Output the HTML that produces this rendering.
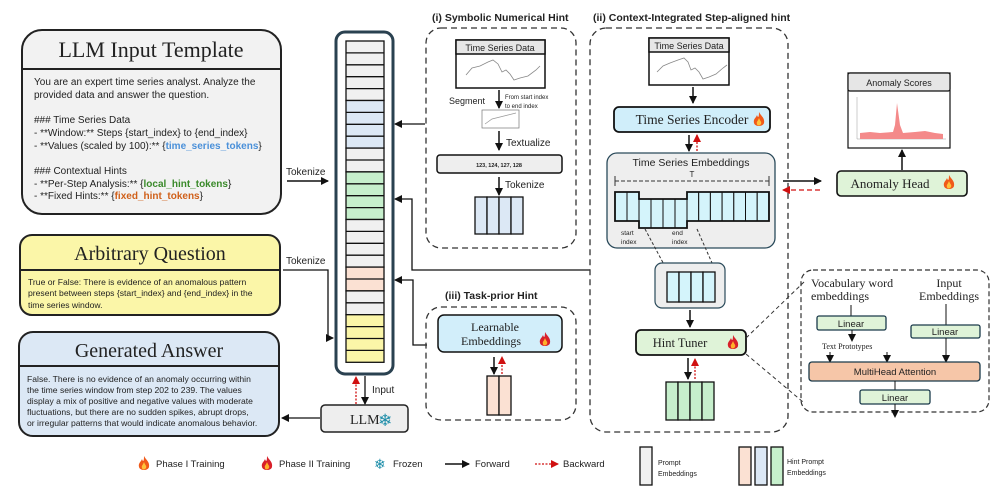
<!DOCTYPE html>
<html><head><meta charset="utf-8"><style>
html,body{margin:0;padding:0;background:#fff}
svg{display:block}
text{font-family:"Liberation Sans",sans-serif;fill:#222}
.s{font-family:"Liberation Serif",serif}
.b{font-weight:bold}
</style></head><body>
<svg width="997" height="494" viewBox="0 0 997 494" xmlns="http://www.w3.org/2000/svg">
<defs>
<marker id="ah" markerWidth="8" markerHeight="8" refX="7" refY="4" orient="auto" markerUnits="userSpaceOnUse"><path d="M0,0 L8,4 L0,8 Z" fill="#111"/></marker>
<marker id="ar" markerWidth="8" markerHeight="8" refX="7" refY="4" orient="auto" markerUnits="userSpaceOnUse"><path d="M0,0 L8,4 L0,8 Z" fill="#d01010"/></marker>
<g id="fire"><path d="M6,0 C8,4 12,6 11,11 C10,15 2,15 1,11 C0,7 3,6 4,3 C5,6 6,6 6,0Z" fill="#f05a1a"/><path d="M6,6 C7,9 9,10 8,12 C7,14 4,14 4,12 C3,10 5,9 6,6Z" fill="#ffc23a"/></g>
<g id="fire2"><path d="M6,0 C8,4 12,6 11,11 C10,15 2,15 1,11 C0,7 3,6 4,3 C5,6 6,6 6,0Z" fill="#d8202a"/><path d="M6,6 C7,9 9,10 8,12 C7,14 4,14 4,12 C3,10 5,9 6,6Z" fill="#ffb02a"/></g>
</defs>

<!-- LLM Input Template -->
<rect x="22" y="30" width="259" height="184" rx="20" fill="#f2f2f2" stroke="#222" stroke-width="2"/>
<line x1="22" y1="69" x2="281" y2="69" stroke="#222" stroke-width="2"/>
<text x="151" y="57" class="s" font-size="22" text-anchor="middle">LLM Input Template</text>
<g font-size="10">
<text x="34" y="85">You are an expert time series analyst. Analyze the</text>
<text x="34" y="98">provided data and answer the question.</text>
<text x="34" y="123">### Time Series Data</text>
<text x="34" y="136">- **Window:** Steps {start_index} to {end_index}</text>
<text x="34" y="149">- **Values (scaled by 100):** {<tspan fill="#4a90d9" font-weight="bold">time_series_tokens</tspan>}</text>
<text x="34" y="174">### Contextual Hints</text>
<text x="34" y="187">- **Per-Step Analysis:** {<tspan fill="#3a8a2a" font-weight="bold">local_hint_tokens</tspan>}</text>
<text x="34" y="199">- **Fixed Hints:** {<tspan fill="#d0601a" font-weight="bold">fixed_hint_tokens</tspan>}</text>
</g>
<text x="286" y="175" font-size="10">Tokenize</text>
<line x1="287" y1="181" x2="328" y2="181" stroke="#111" stroke-width="1.5" marker-end="url(#ah)"/>

<!-- Arbitrary Question -->
<rect x="20" y="235" width="260" height="80" rx="12" fill="#fbf6a8" stroke="#222" stroke-width="2"/>
<line x1="20" y1="270" x2="280" y2="270" stroke="#222" stroke-width="2"/>
<text x="150" y="260" class="s" font-size="20" text-anchor="middle">Arbitrary Question</text>
<g font-size="8.6">
<text x="28" y="285">True or False: There is evidence of an anomalous pattern</text>
<text x="28" y="296">present between steps {start_index} and {end_index} in the</text>
<text x="28" y="308">time series window.</text>
</g>
<text x="286" y="264" font-size="10">Tokenize</text>
<polyline points="283,270 328,270 328,338 333,338" fill="none" stroke="#111" stroke-width="1.3" marker-end="url(#ah)"/>

<!-- Generated Answer -->
<rect x="19" y="332" width="260" height="104" rx="14" fill="#dce8f5" stroke="#222" stroke-width="2"/>
<line x1="19" y1="366" x2="279" y2="366" stroke="#222" stroke-width="2"/>
<text x="149" y="357" class="s" font-size="20" text-anchor="middle">Generated Answer</text>
<g font-size="8.6">
<text x="27" y="382">False. There is no evidence of an anomaly occurring within</text>
<text x="27" y="393">the time series window from step 202 to 239. The values</text>
<text x="27" y="404">display a mix of positive and negative values with moderate</text>
<text x="27" y="415">fluctuations, but there are no sudden spikes, abrupt drops,</text>
<text x="27" y="426">or irregular patterns that would indicate anomalous behavior.</text>
</g>

<!-- Token column -->
<rect x="336" y="32" width="57" height="342" rx="9" fill="#fff" stroke="#2a4150" stroke-width="3"/>
<g stroke="#111" stroke-width="1.3">
<rect x="346" y="41" width="38" height="59.5" fill="#f0f0f0"/>
<rect x="346" y="100.5" width="38" height="47.6" fill="#dce8f5"/>
<rect x="346" y="148.1" width="38" height="23.8" fill="#f0f0f0"/>
<rect x="346" y="171.9" width="38" height="47.6" fill="#c6efcc"/>
<rect x="346" y="219.5" width="38" height="47.6" fill="#f0f0f0"/>
<rect x="346" y="267.1" width="38" height="23.8" fill="#fbe1d3"/>
<rect x="346" y="290.9" width="38" height="23.8" fill="#f0f0f0"/>
<rect x="346" y="314.7" width="38" height="47.6" fill="#fbf6a8"/>
</g>
<path stroke="#111" stroke-width="1.3" d="M346,52.9H384M346,64.8H384M346,76.7H384M346,88.6H384M346,112.4H384M346,124.3H384M346,136.2H384M346,160H384M346,183.8H384M346,195.7H384M346,207.6H384M346,231.4H384M346,243.3H384M346,255.2H384M346,279H384M346,302.8H384M346,326.6H384M346,338.5H384M346,350.4H384"/>

<!-- arrows into column -->
<line x1="425" y1="124" x2="395" y2="124" stroke="#111" stroke-width="1.3" marker-end="url(#ah)"/>
<polyline points="590,270 412,270 412,199 395,199" fill="none" stroke="#111" stroke-width="1.3" marker-end="url(#ah)"/>
<polyline points="427,345 413,345 413,280 395,280" fill="none" stroke="#111" stroke-width="1.3" marker-end="url(#ah)"/>

<!-- LLM -->
<rect x="321" y="405" width="87" height="27" rx="4" fill="#eee" stroke="#222" stroke-width="1.5"/>
<text x="350" y="424" class="s" font-size="14">LLM</text>
<text x="378" y="426" font-size="17" style="fill:#1a8ca8">❄</text>
<line x1="365" y1="376" x2="365" y2="404" stroke="#111" stroke-width="1.3" marker-end="url(#ah)"/>
<line x1="356" y1="404" x2="356" y2="377" stroke="#d01010" stroke-width="1.3" stroke-dasharray="2,1.5" marker-end="url(#ar)"/>
<text x="372" y="393" font-size="10">Input</text>
<line x1="320" y1="418" x2="282" y2="418" stroke="#111" stroke-width="1.3" marker-end="url(#ah)"/>

<!-- (i) Symbolic -->
<text x="432" y="21" font-size="10.5" class="b">(i) Symbolic Numerical Hint</text>
<rect x="426" y="28" width="150" height="220" rx="15" fill="none" stroke="#333" stroke-width="1.3" stroke-dasharray="6,4"/>
<rect x="456" y="40" width="89" height="48" fill="#fff" stroke="#111" stroke-width="1.5"/>
<rect x="456" y="40" width="89" height="14" fill="#e6e6e6" stroke="#111" stroke-width="1.5"/>
<text x="500" y="51" font-size="9" text-anchor="middle">Time Series Data</text>
<polyline points="466,75 472,68 480,66 488,62 493,60 498,64 502,72 506,70 510,74 514,80 520,78 528,76 536,70 540,66" fill="none" stroke="#888" stroke-width="0.8"/>
<line x1="499" y1="90" x2="499" y2="108" stroke="#111" stroke-width="1.5" marker-end="url(#ah)"/>
<text x="449" y="104" font-size="9">Segment</text>
<text x="505" y="99" font-size="6">From start index</text>
<text x="505" y="108" font-size="6">to end index</text>
<rect x="482" y="110" width="37" height="18" fill="#fff" stroke="#777" stroke-width="0.7"/>
<polyline points="485,124 492,119 500,117 508,115 516,113" fill="none" stroke="#999" stroke-width="0.7"/>
<line x1="499" y1="131" x2="499" y2="150" stroke="#111" stroke-width="1.5" marker-end="url(#ah)"/>
<text x="506" y="146" font-size="10">Textualize</text>
<rect x="437" y="155" width="125" height="18" rx="3" fill="#eee" stroke="#111" stroke-width="1.5"/>
<text x="499" y="167" font-size="5.5" class="b" text-anchor="middle">123, 124, 127, 128</text>
<line x1="499" y1="177" x2="499" y2="195" stroke="#111" stroke-width="1.5" marker-end="url(#ah)"/>
<text x="505" y="188" font-size="10">Tokenize</text>
<g stroke="#111" stroke-width="1.3" fill="#dce8f5"><rect x="475" y="197" width="12" height="37"/><rect x="487" y="197" width="12" height="37"/><rect x="499" y="197" width="12" height="37"/><rect x="511" y="197" width="12" height="37"/></g>

<!-- (iii) Task-prior -->
<text x="445" y="299" font-size="10.5" class="b">(iii) Task-prior Hint</text>
<rect x="426" y="307" width="150" height="113" rx="15" fill="none" stroke="#333" stroke-width="1.3" stroke-dasharray="6,4"/>
<rect x="438" y="315" width="124" height="37" rx="6" fill="#d2eefa" stroke="#111" stroke-width="1.5"/>
<text x="495" y="331" class="s" font-size="12" text-anchor="middle">Learnable</text>
<text x="491" y="345" class="s" font-size="12" text-anchor="middle">Embeddings</text>
<use href="#fire2" x="539" y="332"/>
<line x1="494" y1="357" x2="494" y2="374" stroke="#111" stroke-width="1.5" marker-end="url(#ah)"/>
<line x1="502" y1="374" x2="502" y2="357" stroke="#d01010" stroke-width="1.3" stroke-dasharray="2,1.5" marker-end="url(#ar)"/>
<g stroke="#111" stroke-width="1.3" fill="#fbe1d3"><rect x="487" y="376" width="12" height="39"/><rect x="499" y="376" width="12" height="39"/></g>

<!-- (ii) Context -->
<text x="593" y="21" font-size="10.5" class="b">(ii) Context-Integrated Step-aligned hint</text>
<rect x="590" y="28" width="198" height="404" rx="16" fill="none" stroke="#333" stroke-width="1.3" stroke-dasharray="6,4"/>
<rect x="649" y="38" width="80" height="47" fill="#fff" stroke="#111" stroke-width="1.5"/>
<rect x="649" y="38" width="80" height="14" fill="#e6e6e6" stroke="#111" stroke-width="1.5"/>
<text x="689" y="49" font-size="9" text-anchor="middle">Time Series Data</text>
<polyline points="657,72 663,66 670,63 678,60 684,58 688,62 691,70 695,68 699,72 703,79 709,77 716,74 723,68 727,65" fill="none" stroke="#888" stroke-width="0.8"/>
<line x1="693" y1="87" x2="693" y2="103" stroke="#111" stroke-width="1.5" marker-end="url(#ah)"/>
<rect x="614" y="107" width="156" height="25" rx="5" fill="#d0eefa" stroke="#111" stroke-width="1.8"/>
<text x="692" y="124" class="s" font-size="13.5" text-anchor="middle">Time Series Encoder</text>
<use href="#fire" x="753" y="112"/>
<line x1="689" y1="135" x2="689" y2="151" stroke="#111" stroke-width="1.5" marker-end="url(#ah)"/>
<line x1="697" y1="151" x2="697" y2="135" stroke="#d01010" stroke-width="1.3" stroke-dasharray="2,1.5" marker-end="url(#ar)"/>
<rect x="607" y="153" width="168" height="95" rx="10" fill="#eeeeee" stroke="#2a4a5a" stroke-width="1.3"/>
<text x="691" y="166" font-size="10.5" text-anchor="middle">Time Series Embeddings</text>
<text x="692" y="177" font-size="8" text-anchor="middle">T</text>
<line x1="615" y1="181" x2="769" y2="181" stroke="#333" stroke-width="1" stroke-dasharray="4,2"/>
<line x1="615" y1="176" x2="615" y2="186" stroke="#333"/><line x1="769" y1="176" x2="769" y2="186" stroke="#333"/>
<g stroke="#111" stroke-width="1" fill="#d4f4fb">
<rect x="615" y="192" width="12" height="29"/><rect x="627" y="192" width="12" height="29"/>
<rect x="639" y="199" width="12" height="29"/><rect x="651" y="199" width="12" height="29"/><rect x="663" y="199" width="12" height="29"/><rect x="675" y="199" width="12" height="29"/>
<rect x="687" y="192" width="11.7" height="29"/><rect x="698.7" y="192" width="11.7" height="29"/><rect x="710.4" y="192" width="11.7" height="29"/><rect x="722.1" y="192" width="11.7" height="29"/><rect x="733.8" y="192" width="11.7" height="29"/><rect x="745.5" y="192" width="11.7" height="29"/><rect x="757.2" y="192" width="11.7" height="29"/>
</g>
<path d="M615,192H639V199H687V192H769V221H687V228H639V221H615Z" fill="none" stroke="#111" stroke-width="1.8"/>
<text x="621" y="235" font-size="6.5">start</text><text x="621" y="244" font-size="6.5">index</text>
<text x="672" y="235" font-size="6.5">end</text><text x="672" y="244" font-size="6.5">index</text>
<line x1="645" y1="229" x2="668" y2="272" stroke="#333" stroke-dasharray="3,2"/>
<line x1="697" y1="229" x2="716" y2="272" stroke="#333" stroke-dasharray="3,2"/>
<rect x="655" y="263" width="70" height="45" rx="7" fill="#eee" stroke="#2a4a5a" stroke-width="1.2"/>
<g stroke="#111" stroke-width="1.3" fill="#d4f4fb"><rect x="667" y="272" width="12" height="30"/><rect x="679" y="272" width="12" height="30"/><rect x="691" y="272" width="12" height="30"/><rect x="703" y="272" width="12" height="30"/></g>
<line x1="690" y1="310" x2="690" y2="327" stroke="#111" stroke-width="1.5" marker-end="url(#ah)"/>
<rect x="636" y="330" width="110" height="25" rx="5" fill="#dff3d8" stroke="#111" stroke-width="1.8"/>
<text x="680" y="347" class="s" font-size="12.5" text-anchor="middle">Hint Tuner</text>
<use href="#fire2" x="727" y="335"/>
<line x1="688" y1="358" x2="688" y2="379" stroke="#111" stroke-width="1.5" marker-end="url(#ah)"/>
<line x1="695" y1="379" x2="695" y2="359" stroke="#d01010" stroke-width="1.3" stroke-dasharray="2,1.5" marker-end="url(#ar)"/>
<g stroke="#111" stroke-width="1.3" fill="#c6efcc"><rect x="666" y="382" width="12" height="38"/><rect x="678" y="382" width="12" height="38"/><rect x="690" y="382" width="12" height="38"/><rect x="702" y="382" width="12" height="38"/></g>

<!-- Anomaly -->
<line x1="783" y1="181" x2="821" y2="181" stroke="#111" stroke-width="1.5" marker-end="url(#ah)"/>
<line x1="820" y1="190" x2="783" y2="190" stroke="#d01010" stroke-width="1.3" stroke-dasharray="5,3" marker-end="url(#ar)"/>
<rect x="837" y="171" width="130" height="25" rx="4" fill="#dff3d8" stroke="#111" stroke-width="1.6"/>
<text x="890" y="188" class="s" font-size="13" text-anchor="middle">Anomaly Head</text>
<use href="#fire" x="943" y="175"/>
<line x1="902" y1="170" x2="902" y2="150" stroke="#111" stroke-width="1.5" marker-end="url(#ah)"/>
<rect x="848" y="73" width="102" height="75" fill="#fff" stroke="#111" stroke-width="1.2"/>
<rect x="848" y="73" width="102" height="18" rx="2" fill="#e6e6e6" stroke="#111" stroke-width="1.2"/>
<text x="899" y="86" font-size="9" text-anchor="middle">Anomaly Scores</text>
<line x1="857" y1="97" x2="857" y2="139" stroke="#999" stroke-width="0.5"/><line x1="857" y1="139" x2="946" y2="139" stroke="#999" stroke-width="0.5"/>
<path d="M860,139 L860,133 L870,132 L880,133 L893,132 L895,125 L897,103 L900,125 L903,133 L915,132 L925,131 L935,133 L943,134 L943,139Z" fill="#f48a8a"/>

<!-- zoom connectors -->
<line x1="746" y1="338" x2="804" y2="282" stroke="#333" stroke-dasharray="4,3"/>
<line x1="746" y1="354" x2="803" y2="402" stroke="#333" stroke-dasharray="4,3"/>
<rect x="801" y="270" width="188" height="142" rx="12" fill="none" stroke="#333" stroke-width="1.2" stroke-dasharray="5,3"/>
<text x="811" y="287" class="s" font-size="12">Vocabulary word</text>
<text x="811" y="300" class="s" font-size="12">embeddings</text>
<text x="949" y="287" class="s" font-size="12" text-anchor="middle">Input</text>
<text x="949" y="300" class="s" font-size="12" text-anchor="middle">Embeddings</text>
<line x1="851" y1="305" x2="851" y2="316" stroke="#111"/>
<line x1="946" y1="304" x2="946" y2="325" stroke="#111"/>
<rect x="817" y="316" width="69" height="14" rx="2" fill="#dff3d8" stroke="#1a3a4a" stroke-width="1.3"/>
<text x="851" y="327" font-size="9.5" text-anchor="middle">Linear</text>
<rect x="911" y="325" width="69" height="13" rx="2" fill="#dff3d8" stroke="#1a3a4a" stroke-width="1.3"/>
<text x="945" y="335" font-size="9.5" text-anchor="middle">Linear</text>
<line x1="852" y1="330" x2="852" y2="341" stroke="#111" marker-end="url(#ah)"/>
<text x="822" y="349" class="s" font-size="8">Text Prototypes</text>
<line x1="830" y1="352" x2="830" y2="362" stroke="#111" marker-end="url(#ah)"/>
<line x1="887" y1="352" x2="887" y2="362" stroke="#111" marker-end="url(#ah)"/>
<line x1="946" y1="338" x2="946" y2="362" stroke="#111" marker-end="url(#ah)"/>
<rect x="809" y="362" width="171" height="19" rx="3" fill="#f6c6a8" stroke="#1a3a4a" stroke-width="1.3"/>
<text x="895" y="375" font-size="9.5" text-anchor="middle">MultiHead Attention</text>
<line x1="895" y1="381" x2="895" y2="390" stroke="#111"/>
<rect x="860" y="390" width="70" height="14" rx="2" fill="#dff3d8" stroke="#1a3a4a" stroke-width="1.3"/>
<text x="895" y="401" font-size="9.5" text-anchor="middle">Linear</text>
<line x1="895" y1="404" x2="895" y2="417" stroke="#111" marker-end="url(#ah)"/>

<!-- Legend -->
<use href="#fire" x="138" y="456"/>
<text x="156" y="467" font-size="9.5">Phase I Training</text>
<use href="#fire2" x="261" y="456"/>
<text x="279" y="467" font-size="9.5">Phase II Training</text>
<text x="374" y="469" font-size="14" style="fill:#1a8ca8">❄</text>
<text x="393" y="467" font-size="9.5">Frozen</text>
<line x1="445" y1="464" x2="469" y2="464" stroke="#111" stroke-width="1.5" marker-end="url(#ah)"/>
<text x="475" y="467" font-size="9.5">Forward</text>
<line x1="535" y1="464" x2="558" y2="464" stroke="#d01010" stroke-width="1.3" stroke-dasharray="2,1.5" marker-end="url(#ar)"/>
<text x="563" y="467" font-size="9.5">Backward</text>
<rect x="640" y="447" width="12" height="38" fill="#f0f0f0" stroke="#111" stroke-width="1.3"/>
<text x="658" y="465" font-size="7">Prompt</text>
<text x="658" y="476" font-size="7">Embeddings</text>
<g stroke="#111" stroke-width="1.3"><rect x="739" y="447" width="12" height="38" fill="#fbe1d3"/><rect x="755" y="447" width="12" height="38" fill="#dce8f5"/><rect x="771" y="447" width="12" height="38" fill="#c6efcc"/></g>
<text x="787" y="464" font-size="7">Hint Prompt</text>
<text x="787" y="475" font-size="7">Embeddings</text>
</svg>
</body></html>
